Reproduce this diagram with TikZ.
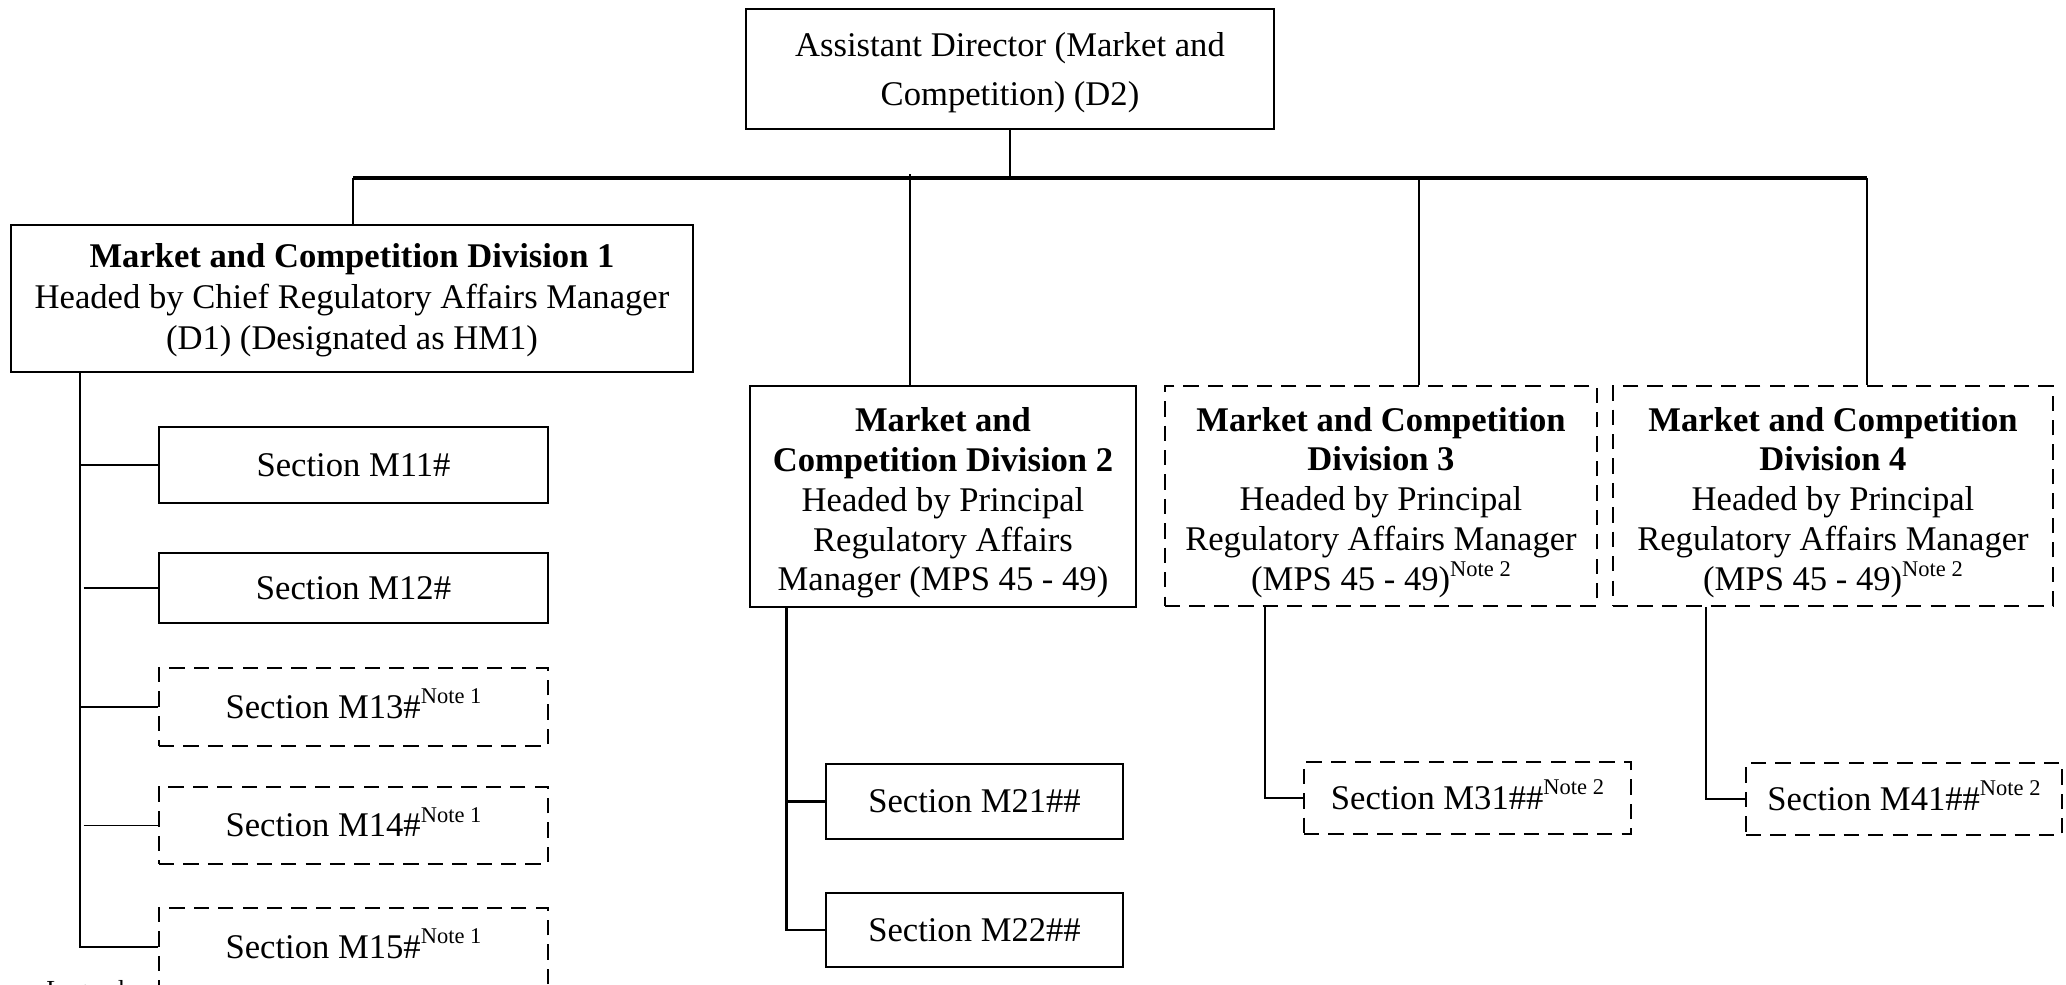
\documentclass[tikz,border=0pt]{standalone}
\usepackage{fontspec}
\setmainfont{Liberation Serif}
\newcommand{\chartfont}{\fontsize{19.7}{22.7}\selectfont}
\newcommand{\notemark}[1]{\smash{\raisebox{0.42em}{\fontsize{12.8}{12.8}\selectfont #1}}}
\begin{document}
\begin{tikzpicture}[x=0.02cm, y=-0.02cm,
		box/.style={draw, line width=1.1pt, inner sep=0pt, align=center, font=\chartfont},
		dbox/.style={box, line width=1.6pt, dash pattern=on 8.7pt off 5.2pt},
		link/.style={line width=1pt},
		heavy/.style={line width=1.6pt},
		bus/.style={line width=2.3pt}]
		\useasboundingbox (0,0) rectangle (2066,984);

		% top of the chart
		\node[box, minimum width=10.56cm, minimum height=2.4cm,
			font=\fontsize{19.7}{27.8}\selectfont] (top) at (1010,69)
			{\rule{0pt}{17.5pt}Assistant Director (Market and\\Competition) (D2)};

		% divisions
		\node[box, minimum width=13.66cm, minimum height=2.94cm,
			font=\fontsize{19.7}{23.3}\selectfont] (div1) at (352,298.5)
			{\rule{0pt}{16pt}\textbf{Market and Competition Division 1}\\Headed by Chief Regulatory Affairs Manager\\(D1) (Designated as HM1)};
		\node[box, minimum width=7.72cm, minimum height=4.42cm] (div2) at (943,496.5)
			{\rule{0pt}{21pt}\textbf{Market and}\\\textbf{Competition Division 2}\\Headed by Principal\\Regulatory Affairs\\Manager (MPS 45 - 49)};
		\node[dbox, minimum width=8.64cm, minimum height=4.4cm] (div3) at (1381,496)
			{\rule{0pt}{21pt}\textbf{Market and Competition}\\\textbf{Division 3}\\Headed by Principal\\Regulatory Affairs Manager\\(MPS 45 - 49)\notemark{Note 2}};
		\node[dbox, minimum width=8.8cm, minimum height=4.4cm] (div4) at (1833,496)
			{\rule{0pt}{21pt}\textbf{Market and Competition}\\\textbf{Division 4}\\Headed by Principal\\Regulatory Affairs Manager\\(MPS 45 - 49)\notemark{Note 2}};

		% sections
		\node[box, minimum width=7.78cm, minimum height=1.52cm] (m11) at (353.5,465) {Section M11\#};
		\node[box, minimum width=7.78cm, minimum height=1.4cm] (m12) at (353.5,588) {Section M12\#};
		\node[dbox, minimum width=7.78cm, minimum height=1.56cm] (m13) at (353.5,707) {Section M13\#\notemark{Note 1}};
		\node[dbox, minimum width=7.78cm, minimum height=1.54cm] (m14) at (353.5,825.5) {Section M14\#\notemark{Note 1}};
		\node[dbox, minimum width=7.78cm, minimum height=1.56cm] (m15) at (353.5,947) {Section M15\#\notemark{Note 1}};
		\node[box, minimum width=5.94cm, minimum height=1.5cm] (m21) at (974.5,801.5) {Section M21\#\#};
		\node[box, minimum width=5.94cm, minimum height=1.48cm] (m22) at (974.5,930) {Section M22\#\#};
		\node[dbox, minimum width=6.54cm, minimum height=1.44cm] (m31) at (1467.5,798) {Section M31\#\#\notemark{Note 2}};
		\node[dbox, minimum width=6.32cm, minimum height=1.44cm] (m41) at (1904,799) {Section M41\#\#\notemark{Note 2}};

		\node[anchor=base west, inner sep=0pt, font=\fontsize{14.8}{14.8}\selectfont] (legend) at (46,998) {Legend};

		% connectors
		\coordinate (b1) at (353,178);
		\coordinate (b2) at (910,178);
		\coordinate (b3) at (1419,178);
		\coordinate (b4) at (1867,178);
		\draw[link] (top.south) -- (top.south |- b1);
		\draw[bus] (b1) -- (b4);
		\draw[heavy] (b1) -- (b1 |- div1.north);
		\draw[link] ([yshift=2pt]b2) -- (b2 |- div2.north);
		\draw[heavy] (b3) -- (b3 |- div3.north);
		\draw[link] (b4) -- (b4 |- div4.north);

		\coordinate (s1) at (80,0);
		\coordinate (s2) at (786.5,0);
		\coordinate (s3) at (1265,0);
		\coordinate (s4) at (1706,0);
		\draw[heavy] (div1.south -| s1) |- (m15.west);
		\draw[heavy] (m11.west -| s1) -- (m11.west);
		\draw[heavy] (m13.west -| s1) -- (m13.west);
		\foreach \sec in {m12,m14}
			\draw[link] ([xshift=2pt]\sec.west -| s1) -- (\sec.west);
		\draw[heavy] (div2.south -| s2) |- (m22.west);
		\draw[heavy] (m21.west -| s2) -- (m21.west);
		\draw[heavy] (div3.south -| s3) |- (m31.west);
		\draw[link] (div4.south -| s4) |- (m41.west);
	\end{tikzpicture}
\end{document}
